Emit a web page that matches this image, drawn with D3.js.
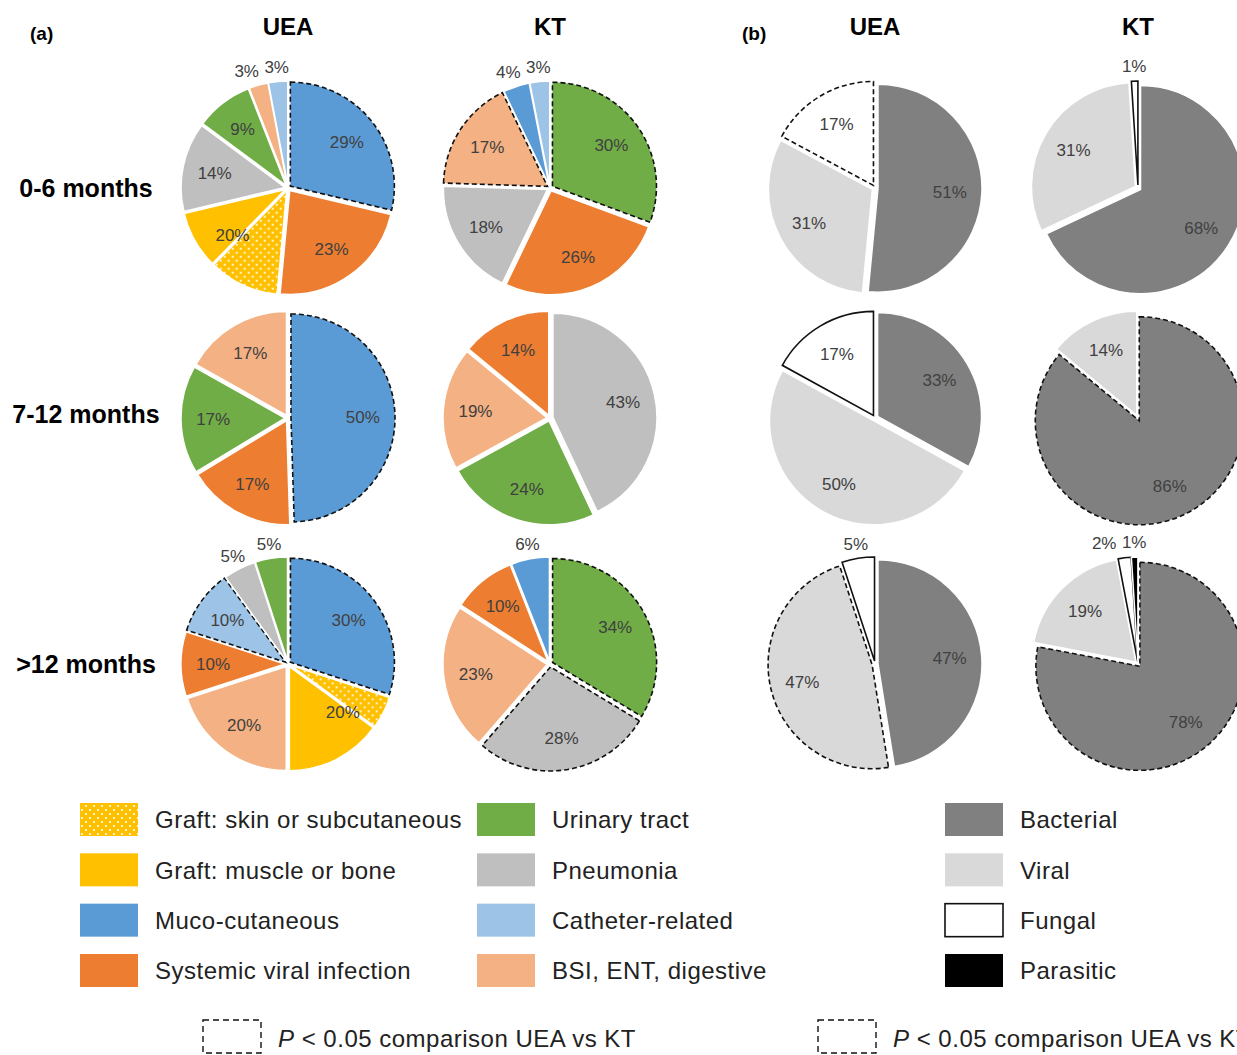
<!DOCTYPE html>
<html>
<head>
<meta charset="utf-8">
<script src="https://cdn.jsdelivr.net/npm/d3@7"></script>
<style>
  body { margin: 0; background: #fff; }
  text { font-family: "Liberation Sans", Arial, sans-serif; }
</style>
</head>
<body>
<div id="chart"></div>
<script>
const periods = ["0-6 months", "7-12 months", ">12 months"];
const groups = ["UEA", "KT"];

const typesA = ["Graft: skin or subcutaneous", "Graft: muscle or bone", "Muco-cutaneous", "Systemic viral infection",
  "Urinary tract", "Pneumonia", "Catheter-related", "BSI, ENT, digestive"];
const typesB = ["Bacterial", "Viral", "Fungal", "Parasitic"];

// (a) site of infection, slices clockwise from 12 o'clock, [type, %]
const aUEA06 = [["Muco-cutaneous", 29], ["Systemic viral infection", 23], ["Graft: skin or subcutaneous", 11],
  ["Graft: muscle or bone", 9], ["Pneumonia", 14], ["Urinary tract", 9], ["BSI, ENT, digestive", 3], ["Catheter-related", 3]];
const aKT06 = [["Urinary tract", 30], ["Systemic viral infection", 26], ["Pneumonia", 18], ["BSI, ENT, digestive", 17],
  ["Muco-cutaneous", 4], ["Catheter-related", 3]];
const aUEA712 = [["Muco-cutaneous", 50], ["Systemic viral infection", 17], ["Urinary tract", 17], ["BSI, ENT, digestive", 17]];
const aKT712 = [["Pneumonia", 43], ["Urinary tract", 24], ["BSI, ENT, digestive", 19], ["Systemic viral infection", 14]];
const aUEA12 = [["Muco-cutaneous", 30], ["Graft: skin or subcutaneous", 5], ["Graft: muscle or bone", 15],
  ["BSI, ENT, digestive", 20], ["Systemic viral infection", 10], ["Catheter-related", 10], ["Pneumonia", 5], ["Urinary tract", 5]];
const aKT12 = [["Urinary tract", 34], ["Pneumonia", 28], ["BSI, ENT, digestive", 23], ["Systemic viral infection", 10],
  ["Muco-cutaneous", 6]];

// (b) type of pathogen
const bUEA06 = [["Bacterial", 51], ["Viral", 31], ["Fungal", 17]];
const bKT06 = [["Bacterial", 68], ["Viral", 31], ["Fungal", 1]];
const bUEA712 = [["Bacterial", 33], ["Viral", 50], ["Fungal", 17]];
const bKT712 = [["Bacterial", 86], ["Viral", 14]];
const bUEA12 = [["Bacterial", 47], ["Viral", 47], ["Fungal", 5]];
const bKT12 = [["Bacterial", 78], ["Viral", 19], ["Fungal", 2], ["Parasitic", 1]];

// slices with P < 0.05 (UEA vs KT)
const sigA = ["UEA|0-6 months|Muco-cutaneous", "KT|0-6 months|Urinary tract", "KT|0-6 months|BSI, ENT, digestive",
  "UEA|7-12 months|Muco-cutaneous", "UEA|>12 months|Muco-cutaneous", "UEA|>12 months|Catheter-related",
  "KT|>12 months|Urinary tract", "KT|>12 months|Pneumonia"];
const sigB = ["UEA|0-6 months|Fungal", "KT|7-12 months|Bacterial", "UEA|>12 months|Viral", "KT|>12 months|Bacterial"];

const piesA = [[aUEA06, aKT06], [aUEA712, aKT712], [aUEA12, aKT12]];
const piesB = [[bUEA06, bKT06], [bUEA712, bKT712], [bUEA12, bKT12]];

const colorA = d3.scaleOrdinal().domain(typesA)
  .range(["url(#dots)", "#FFC000", "#5B9BD5", "#ED7D31", "#70AD47", "#BFBFBF", "#9DC3E6", "#F4B183"]);
const colorB = d3.scaleOrdinal().domain(typesB).range(["#808080", "#D9D9D9", "#FFFFFF", "#000000"]);

const width = 1237, height = 1055;
const svg = d3.select("#chart").append("svg").attr("width", width).attr("height", height);

const defs = svg.append("defs");
const pat = defs.append("pattern").attr("id", "dots").attr("patternUnits", "userSpaceOnUse")
  .attr("width", 8).attr("height", 8);
pat.append("rect").attr("width", 8).attr("height", 8).attr("fill", "#FFC000");
pat.append("circle").attr("cx", 2).attr("cy", 2).attr("r", 1.1).attr("fill", "#fff");
pat.append("circle").attr("cx", 6).attr("cy", 6).attr("r", 1.1).attr("fill", "#fff");

const R = 104, explode = 3;
const xA = d3.scalePoint().domain(groups).range([288, 550]);
const xB = d3.scalePoint().domain(groups).range([875, 1138]);
const yRow = d3.scaleOrdinal().domain(periods).range([188, 418, 664]);

const pie = d3.pie().sort(null).value(d => d[1]);
const arc = d3.arc().innerRadius(0).outerRadius(R);
const labelArc = d3.arc().innerRadius(R * 0.72).outerRadius(R * 0.72);
const outArc = d3.arc().innerRadius(R * 1.17).outerRadius(R * 1.17);

function drawPie(cx, cy, slices, group, period, color, sigList, outlined) {
  const g = svg.append("g").attr("transform", `translate(${cx},${cy})`);
  const arcs = pie(slices);
  arcs.forEach(d => {
    const mid = (d.startAngle + d.endAngle) / 2;
    const dx = Math.sin(mid) * explode, dy = -Math.cos(mid) * explode;
    const sig = sigList.includes(`${group}|${period}|${d.data[0]}`);
    const p = g.append("path").attr("d", arc(d)).attr("transform", `translate(${dx},${dy})`)
      .attr("fill", color(d.data[0]));
    if (sig) {
      p.attr("stroke", "#111").attr("stroke-width", 1.6).attr("stroke-dasharray", "5,3");
    } else if (outlined.includes(d.data[0])) {
      p.attr("stroke", "#111").attr("stroke-width", 1.6);
    } else {
      p.attr("stroke", "#fff").attr("stroke-width", 1.5);
    }
  });

  // labels
  const outs = [];
  arcs.forEach((d, i) => {
    const k = d.data[0];
    if (k === "Graft: skin or subcutaneous") return;
    let txt = d.data[1], pos;
    if (k === "Graft: muscle or bone" && i > 0 && arcs[i - 1].data[0] === "Graft: skin or subcutaneous") {
      // the two graft slices share one label
      txt = d.data[1] + arcs[i - 1].data[1];
      const a = d.startAngle + 0.09;
      pos = [Math.sin(a) * R * 0.7, -Math.cos(a) * R * 0.7];
    } else if (d.data[1] <= 6) {
      pos = outArc.centroid(d);
      outs.push(pos);
    } else {
      pos = labelArc.centroid(d);
    }
    d.label = { txt: txt + "%", pos: pos };
  });
  // spread crowded outside labels
  for (let i = outs.length - 2; i >= 0; i--) {
    if (outs[i + 1][0] - outs[i][0] < 30) outs[i][0] = outs[i + 1][0] - 30;
  }
  arcs.filter(d => d.label).forEach(d => {
    g.append("text").attr("x", d.label.pos[0]).attr("y", d.label.pos[1]).attr("dy", "0.35em")
      .attr("text-anchor", "middle").attr("font-size", 17).attr("fill", "#404040").text(d.label.txt);
  });
}

periods.forEach((p, r) => {
  groups.forEach((gname, c) => {
    drawPie(xA(gname), yRow(p), piesA[r][c], gname, p, colorA, sigA, []);
    drawPie(xB(gname), yRow(p), piesB[r][c], gname, p, colorB, sigB, ["Fungal"]);
  });
});

// headers
groups.forEach(gname => {
  svg.append("text").attr("x", xA(gname)).attr("y", 35).attr("text-anchor", "middle")
    .attr("font-size", 24).attr("font-weight", "bold").text(gname);
  svg.append("text").attr("x", xB(gname)).attr("y", 35).attr("text-anchor", "middle")
    .attr("font-size", 24).attr("font-weight", "bold").text(gname);
});
svg.append("text").attr("x", 30).attr("y", 40).attr("font-size", 19).attr("font-weight", "bold").text("(a)");
svg.append("text").attr("x", 742).attr("y", 40).attr("font-size", 19).attr("font-weight", "bold").text("(b)");

const rowLabelY = d3.scaleOrdinal().domain(periods).range([188, 414, 664]);
periods.forEach(p => {
  svg.append("text").attr("x", 86).attr("y", rowLabelY(p)).attr("dy", "0.35em").attr("text-anchor", "middle")
    .attr("font-size", 25).attr("font-weight", "bold").text(p);
});

// legends
const legY = d3.scalePoint().domain([0, 1, 2, 3]).range([803, 954]);
function legendItem(x, y, fill, label, stroke) {
  svg.append("rect").attr("x", x).attr("y", y).attr("width", 58).attr("height", 33).attr("fill", fill)
    .attr("stroke", stroke || "none").attr("stroke-width", 1.6);
  svg.append("text").attr("x", x + 75).attr("y", y + 17).attr("dy", "0.35em").attr("font-size", 24)
    .attr("letter-spacing", 0.5).attr("fill", "#222").text(label);
}
typesA.forEach((t, i) => {
  const col = Math.floor(i / 4), row = i % 4;
  legendItem(col === 0 ? 80 : 477, legY(row), colorA(t), t);
});
typesB.forEach((t, i) => {
  legendItem(945, legY(i), colorB(t), t, t === "Fungal" ? "#111" : null);
});

// significance key
[203, 818].forEach(x => {
  svg.append("rect").attr("x", x).attr("y", 1020).attr("width", 58).attr("height", 33).attr("fill", "#fff")
    .attr("stroke", "#111").attr("stroke-width", 1.4).attr("stroke-dasharray", "6,4");
  const t = svg.append("text").attr("x", x + 75).attr("y", 1039).attr("dy", "0.35em").attr("font-size", 24)
    .attr("letter-spacing", 0.5).attr("fill", "#222");
  t.append("tspan").attr("font-style", "italic").text("P");
  t.append("tspan").text(" < 0.05 comparison UEA vs KT");
});
</script>
</body>
</html>
